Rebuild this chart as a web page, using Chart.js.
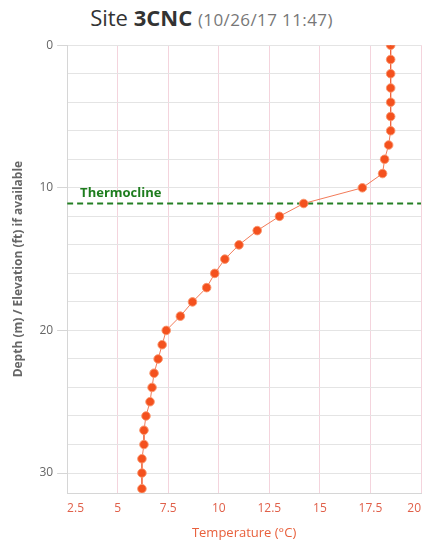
<!DOCTYPE html>
<html>
<head>
<meta charset="utf-8">
<script src="https://cdn.jsdelivr.net/npm/chart.js@4/dist/chart.umd.min.js"></script>
<style>
  html, body { margin: 0; padding: 0; background: #fff; overflow: hidden; }
  #titulo { height: 34px; width: 423px; text-align: center; font-family: "Open Sans", sans-serif;
            color: #333; font-size: 22px; line-height: 34px; white-space: nowrap; }
  #titulo b { font-weight: 700; }
  #titulo span { color: #777; font-size: 17px; letter-spacing: 0.4px; }
  #box { width: 429px; height: 507px; position: relative; }
</style>
</head>
<body>
<div id="titulo">Site <b>3CNC</b> <span>(10/26/17 11:47)</span></div>
<div id="box"><canvas id="myChart"></canvas></div>
<script>
var profundidade = [0, 1, 2, 3, 4, 5, 6, 7, 8, 9, 10, 11.1, 12, 13, 14, 15, 16, 17, 18, 19, 20,
                    21, 22, 23, 24, 25, 26, 27, 28, 29, 30, 31.1]
var temperatura = [18.5, 18.5, 18.5, 18.5, 18.5, 18.5, 18.5, 18.4, 18.2, 18.1, 17.1, 14.2, 13.0, 11.9,
                   11.0, 10.3, 9.8, 9.4, 8.7, 8.1, 7.4, 7.2, 7.0, 6.8, 6.7, 6.6, 6.4, 6.3, 6.3, 6.2, 6.2, 6.2]
var termoclina = 11.1
var termoLabel = "Thermocline"
var xTitulo = "Temperature (\u00B0C)"
var yTitulo = "Depth (m) / Elevation (ft) if available"
var xMin = 2.5, xMax = 20, yMin = 0, yMax = 31.4

function dados_perfil (temp, prof) {
  var pontos = []
  for (var i = 0; i < temp.length; i++) pontos.push({ x: temp[i], y: prof[i] })
  return pontos
}

// texto "Thermocline" acima da linha tracejada
var rotuloTermo = {
  id: "rotuloTermo",
  afterDatasetsDraw: function (chart) {
    var c = chart.ctx
    var px = chart.scales.x.getPixelForValue(xMin) + 13
    var py = chart.scales.y.getPixelForValue(termoclina) - 4
    c.save()
    c.font = "bold 13px 'Open Sans', sans-serif"
    c.fillStyle = "#1e7d1e"
    c.textBaseline = "bottom"
    c.fillText(termoLabel, px, py)
    c.restore()
  }
}

var ctx = document.getElementById("myChart").getContext("2d")
var myChart = new Chart(ctx, {
  type: "line",
  data: {
    datasets: [
      {
        label: "Temperature",
        data: dados_perfil(temperatura, profundidade),
        borderColor: "rgba(240,100,60,0.85)",
        borderWidth: 1,
        pointRadius: 4.3,
        pointBackgroundColor: "#f4511e",
        pointBorderColor: "rgba(250,150,110,0.9)",
        pointBorderWidth: 1,
        tension: 0,
      },
      {
        label: termoLabel,
        data: [{ x: xMin, y: termoclina }, { x: xMax, y: termoclina }],
        borderColor: "#237f23",
        borderWidth: 2,
        borderDash: [6, 4],
        pointRadius: 0,
      },
    ],
  },
  plugins: [rotuloTermo],
  options: {
    responsive: true,
    maintainAspectRatio: false,
    animation: false,
    layout: { padding: { top: 4, right: 2, left: 11, bottom: 0 } },
    plugins: { legend: { display: false }, tooltip: { enabled: false } },
    scales: {
      x: {
        type: "linear",
        min: xMin,
        max: xMax,
        ticks: {
          stepSize: 2.5,
          color: "#e0604a",
          align: "inner",
          font: { family: "'Open Sans', sans-serif", size: 12 },
          padding: 8,
        },
        grid: { color: "rgba(230,160,180,0.45)", drawTicks: false },
        border: { color: "#d6d6d6" },
        title: {
          display: true,
          text: xTitulo,
          color: "#e8603c",
          font: { family: "'Open Sans', sans-serif", size: 13 },
          padding: { top: 2, bottom: 0 },
        },
      },
      y: {
        type: "linear",
        reverse: true,
        min: yMin,
        max: yMax,
        ticks: {
          stepSize: 2,
          color: "#666",
          font: { family: "'Open Sans', sans-serif", size: 12 },
          callback: function (v) { return v % 10 === 0 ? v : "" },
          padding: 4,
        },
        grid: {
          color: "#e4e4e4",
          tickLength: 10,
          tickColor: function (c) { return c.tick && c.tick.value % 10 === 0 ? "#d6d6d6" : "rgba(0,0,0,0)" },
        },
        border: { color: "#d6d6d6" },
        title: {
          display: true,
          text: yTitulo,
          color: "#666",
          font: { family: "'Open Sans', sans-serif", size: 12, weight: "bold" },
          padding: { top: 0, bottom: 10 },
        },
      },
    },
  },
})
</script>
</body>
</html>
